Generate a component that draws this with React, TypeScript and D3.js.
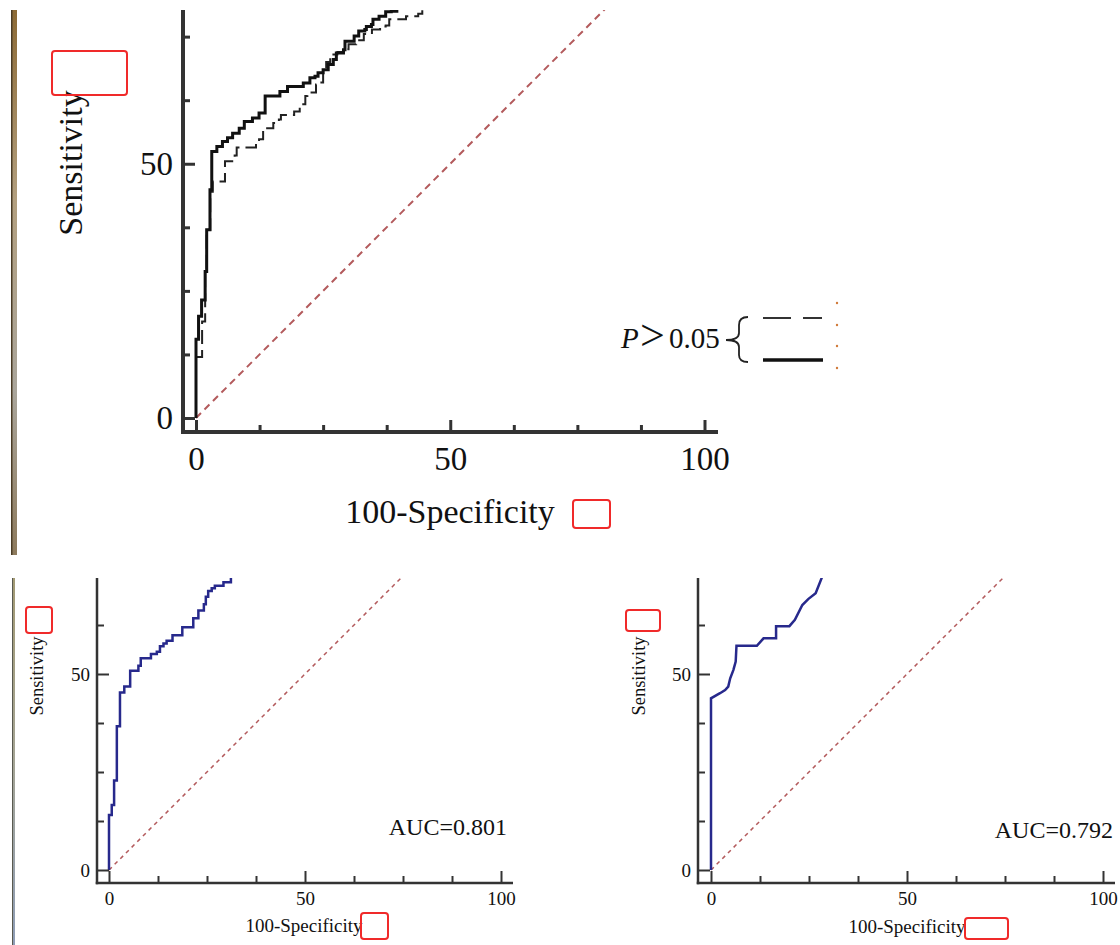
import React, { useRef, useEffect } from 'react';
import * as d3 from 'd3';

const majorTicks = [0, 50, 100];
const minorTicks = [12.5, 25, 37.5, 62.5, 75, 87.5];
const chanceLine = [0, 100];

// top panel, solid curve (100-specificity, sensitivity at each step)
const solidFpr = [0, 0, 0.5, 1.1, 1.8, 2.1, 2.75, 3.1, 4.1, 5.2, 6.2, 7.2, 8.5, 9.5, 11.1, 12.4, 13.6, 16.5, 18.0, 21.1, 22.4, 23.4, 24.0, 25.0, 26.0, 27.0, 27.6, 29.0, 29.3, 31.1, 32.0, 33.2, 33.5, 34.5, 34.8, 36.0, 37.3, 38.4, 39.5];
const solidTpr = [0, 15.5, 20.0, 23.2, 28.8, 37.0, 44.9, 52.4, 53.4, 54.4, 55.1, 56.0, 57.0, 58.3, 59.0, 60.0, 63.3, 64.2, 65.2, 65.9, 66.9, 67.2, 67.9, 68.5, 69.5, 70.5, 71.8, 72.4, 74.1, 75.1, 76.1, 76.4, 77.0, 77.4, 78.4, 79.0, 79.9, 80.0, 81.5];

// top panel, dashed curve
const dashedFpr = [0, 0, 1.2, 1.8, 2.1, 2.8, 3.3, 5.7, 7.6, 8.0, 11.8, 12.4, 13.2, 15.2, 16.3, 16.7, 19.3, 20.4, 21.5, 21.9, 23.6, 24.4, 25.0, 25.6, 26.4, 27.8, 29.0, 30.0, 31.5, 33.0, 34.6, 36.2, 37.3, 38.0, 41.3, 43.7, 44.5];
const dashedTpr = [0, 12, 19, 28.8, 37, 44.5, 46.5, 50.5, 51.6, 53.2, 54.4, 54.8, 57.0, 58.0, 58.7, 59.6, 60.3, 61.7, 63.3, 64.0, 65.6, 66.0, 68.5, 70.0, 71.5, 72.0, 72.5, 73.5, 74.3, 75.5, 76.4, 77.0, 77.2, 78.4, 79.0, 79.5, 81];

// bottom left, AUC 0.801
const leftFpr = [0, 0, 0.7, 1.3, 2.0, 2.8, 3.9, 5.4, 7.5, 8.1, 10.7, 12.2, 13.0, 13.9, 14.7, 16.2, 18.7, 21.5, 22.8, 24.2, 24.7, 25.3, 26.2, 27.0, 29.2, 31.1];
const leftTpr = [0, 14.0, 16.6, 22.8, 36.7, 45.3, 46.8, 50.8, 52.1, 54.0, 55.1, 55.7, 57.1, 57.8, 58.5, 59.9, 61.9, 64.2, 66.2, 67.8, 69.7, 71.2, 71.9, 72.5, 73.4, 75.5];

// bottom right, AUC 0.792
const rightFpr = [0, 0, 2.3, 3.6, 4.4, 4.9, 5.7, 6.3, 6.5, 11.7, 13.4, 16.6, 16.6, 20.0, 21.4, 23.3, 24.8, 26.7, 28.2, 28.6];
const rightTpr = [0, 43.8, 45.1, 45.9, 46.8, 48.9, 51.0, 53.2, 57.2, 57.2, 59.1, 59.1, 62.2, 62.2, 63.8, 67.6, 69.1, 70.6, 74.4, 75.5];

const aucLabels = ['AUC=0.801', 'AUC=0.792'];
const legendLabel = ['P', '>', '0.05'];

const serif = '"Liberation Serif", "Times New Roman", serif';
const navy = '#27298c';

type Curve = { fpr: number[]; tpr: number[]; color: string; width: number; dash?: string; step: boolean };
type PanelSpec = {
  id: string;
  axisX: number; axisY: number; originX: number; originY: number; unit: number;
  xEnd: number; top: number;
  font: number; padX: number; padY: number;
  axisW: number; tickW: number; major: number; minor: number;
  diagDash: string; diagW: number;
  curves: Curve[];
};

const topSpec: PanelSpec = {
  id: 'top', axisX: 183, axisY: 432, originX: 196, originY: 418, unit: 5.085,
  xEnd: 718, top: 10, font: 33, padX: 10, padY: 15,
  axisW: 4, tickW: 3, major: 12, minor: 7, diagDash: '7,5', diagW: 2,
  curves: [
    { fpr: dashedFpr, tpr: dashedTpr, color: '#222', width: 2, dash: '14,6', step: true },
    { fpr: solidFpr, tpr: solidTpr, color: '#111', width: 3, step: true },
  ],
};

const leftSpec: PanelSpec = {
  id: 'left', axisX: 97, axisY: 883, originX: 109, originY: 870, unit: 3.92,
  xEnd: 513, top: 578, font: 19, padX: 7, padY: 9,
  axisW: 2.5, tickW: 2, major: 12, minor: 7, diagDash: '4,4', diagW: 1.5,
  curves: [{ fpr: leftFpr, tpr: leftTpr, color: navy, width: 2.5, step: true }],
};

const rightSpec: PanelSpec = {
  ...leftSpec,
  id: 'right', axisX: 698, originX: 711, xEnd: 1115,
  curves: [{ fpr: rightFpr, tpr: rightTpr, color: navy, width: 2.5, step: false }],
};

function RocPanel({ spec }: { spec: PanelSpec }) {
  const ref = useRef<SVGGElement>(null);

  useEffect(() => {
    const g = d3.select(ref.current);
    g.selectAll('*').remove();

    const x = d3.scaleLinear().domain([0, 100]).range([spec.originX, spec.originX + 100 * spec.unit]);
    const y = d3.scaleLinear().domain([0, 100]).range([spec.originY, spec.originY - 100 * spec.unit]);

    const clipId = `clip-${spec.id}`;
    g.append('clipPath').attr('id', clipId).append('rect')
      .attr('x', spec.axisX).attr('y', spec.top)
      .attr('width', spec.xEnd - spec.axisX).attr('height', spec.axisY - spec.top);
    const plot = g.append('g').attr('clip-path', `url(#${clipId})`);

    plot.append('line')
      .attr('x1', x(chanceLine[0])).attr('y1', y(chanceLine[0]))
      .attr('x2', x(chanceLine[1])).attr('y2', y(chanceLine[1]))
      .attr('stroke', '#b35a5c').attr('stroke-width', spec.diagW)
      .attr('stroke-dasharray', spec.diagDash);

    spec.curves.forEach(c => {
      const pts = c.fpr.map((f, i) => [f, c.tpr[i]] as [number, number]);
      const line = d3.line<[number, number]>()
        .x(d => x(d[0])).y(d => y(d[1]))
        .curve(c.step ? d3.curveStepAfter : d3.curveLinear);
      plot.append('path').attr('d', line(pts))
        .attr('fill', 'none').attr('stroke', c.color).attr('stroke-width', c.width)
        .attr('stroke-dasharray', c.dash ?? null);
    });

    // ticks point inward, axis lines sit outside the origin
    const fmt = d3.format('d');
    g.append('g').attr('transform', `translate(0,${spec.axisY})`)
      .call(d3.axisBottom(x).tickValues(majorTicks).tickSize(-spec.major).tickPadding(spec.padY).tickFormat(fmt as any));
    g.append('g').attr('transform', `translate(0,${spec.axisY})`)
      .call(d3.axisBottom(x).tickValues(minorTicks).tickSize(-spec.minor).tickFormat(() => ''));
    g.append('g').attr('transform', `translate(${spec.axisX},0)`)
      .call(d3.axisLeft(y).tickValues(majorTicks.filter(v => y(v) >= spec.top)).tickSize(-spec.major).tickPadding(spec.padX).tickFormat(fmt as any));
    g.append('g').attr('transform', `translate(${spec.axisX},0)`)
      .call(d3.axisLeft(y).tickValues(minorTicks.filter(v => y(v) >= spec.top)).tickSize(-spec.minor).tickFormat(() => ''));

    g.selectAll('.domain').remove();
    g.selectAll('.tick line').attr('stroke', '#333').attr('stroke-width', spec.tickW);
    g.selectAll('.tick text').attr('font-family', serif).attr('font-size', spec.font).attr('fill', '#111');

    g.append('line')
      .attr('x1', spec.axisX).attr('x2', spec.axisX)
      .attr('y1', spec.top).attr('y2', spec.axisY + spec.axisW / 2)
      .attr('stroke', '#333').attr('stroke-width', spec.axisW);
    g.append('line')
      .attr('x1', spec.axisX - spec.axisW / 2).attr('x2', spec.xEnd)
      .attr('y1', spec.axisY).attr('y2', spec.axisY)
      .attr('stroke', '#333').attr('stroke-width', spec.axisW);
  }, [spec]);

  return <g ref={ref} />;
}

const RedBox = ({ x, y, w, h }: { x: number; y: number; w: number; h: number }) => (
  <rect x={x} y={y} width={w} height={h} rx={3} fill="none" stroke="#f02a2a" strokeWidth={2} />
);

export default function App() {
  return (
    <div style={{ position: 'absolute', left: 0, top: 0, width: 1120, height: 945, background: '#fff' }}>
      <svg width={1120} height={945} style={{ display: 'block' }}>
        <defs>
          <linearGradient id="barTop" x1="0" y1="0" x2="0" y2="1">
            <stop offset="0%" stopColor="#8c6a35" />
            <stop offset="35%" stopColor="#b3a080" />
            <stop offset="70%" stopColor="#aaa69c" />
            <stop offset="100%" stopColor="#8d7a5c" />
          </linearGradient>
          <linearGradient id="barBottom" x1="0" y1="0" x2="0" y2="1">
            <stop offset="0%" stopColor="#a29a74" />
            <stop offset="50%" stopColor="#a4a494" />
            <stop offset="100%" stopColor="#8e9db6" />
          </linearGradient>
        </defs>
        <rect x={0} y={0} width={1120} height={945} fill="#fff" />

        <rect x={11} y={10} width={6} height={545} fill="url(#barTop)" />
        <rect x={11} y={10} width={1.5} height={545} fill="#4a3c26" />
        <rect x={12} y={578} width={3} height={367} fill="url(#barBottom)" />
        <rect x={12} y={578} width={1} height={367} fill="#5a5a50" />

        <RocPanel spec={topSpec} />
        <RocPanel spec={leftSpec} />
        <RocPanel spec={rightSpec} />

        <g fontFamily={serif} fill="#111">
          <text x={82} y={163} fontSize={34} textAnchor="middle" transform="rotate(-90 82 163)">Sensitivity</text>
          <text x={450} y={523} fontSize={34} textAnchor="middle">100-Specificity</text>

          <text x={43} y={676} fontSize={18.5} textAnchor="middle" transform="rotate(-90 43 676)">Sensitivity</text>
          <text x={304} y={932} fontSize={19} textAnchor="middle">100-Specificity</text>
          <text x={507} y={835} fontSize={24} textAnchor="end">{aucLabels[0]}</text>

          <text x={645} y={676} fontSize={18.5} textAnchor="middle" transform="rotate(-90 645 676)">Sensitivity</text>
          <text x={907} y={933} fontSize={19} textAnchor="middle">100-Specificity</text>
          <text x={1113} y={838} fontSize={24} textAnchor="end">{aucLabels[1]}</text>

          <text y={348} fontSize={29}>
            <tspan x={621} fontStyle="italic">{legendLabel[0]}</tspan>
            <tspan x={640} y={350} fontSize={44} fontWeight={300}>{legendLabel[1]}</tspan>
            <tspan x={669} y={348}>{legendLabel[2]}</tspan>
          </text>
        </g>

        <path d="M748 317 Q739 317 739 325 L739 333 Q739 340 726 340 Q739 340 739 347 L739 355 Q739 362 748 362"
          fill="none" stroke="#222" strokeWidth={1.8} />
        <line x1={763} x2={822} y1={318} y2={318} stroke="#333" strokeWidth={2.2} strokeDasharray="28,12" />
        <line x1={763} x2={823} y1={360} y2={360} stroke="#111" strokeWidth={3.5} />
        {[303, 325, 346, 368].map(cy => (
          <circle key={cy} cx={837} cy={cy} r={1.2} fill="#d07a3a" />
        ))}

        <RedBox x={52} y={51} w={75} h={44} />
        <RedBox x={573} y={500} w={37} h={28} />
        <RedBox x={26} y={607} w={26} h={26} />
        <RedBox x={361} y={913} w={27} h={26} />
        <RedBox x={626} y={610} w={34} h={21} />
        <RedBox x={965} y={918} w={43} h={21} />
      </svg>
    </div>
  );
}
